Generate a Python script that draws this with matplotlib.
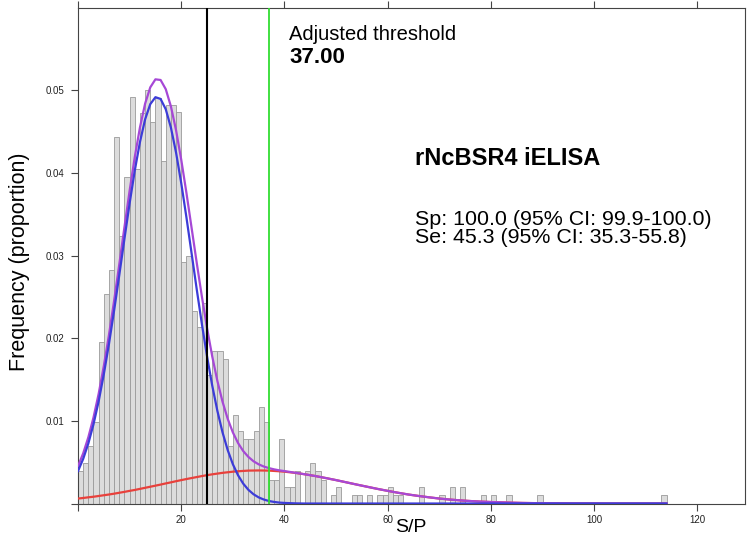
import numpy as np
import matplotlib
matplotlib.use("Agg")
import matplotlib.pyplot as plt

plt.rcParams['font.family'] = ['Liberation Sans', 'DejaVu Sans']

# histogram: proportion per 1-unit S/P bin, bins start at 0
bin_starts = list(range(0, 114))
props = [0.0039, 0.0049, 0.0069, 0.0098, 0.0195, 0.0253, 0.0282, 0.0443, 0.0323, 0.0395,
         0.0492, 0.0405, 0.0472, 0.0500, 0.0462, 0.0490, 0.0414, 0.0482, 0.0482, 0.0473,
         0.0292, 0.0300, 0.0233, 0.0213, 0.0242, 0.0156, 0.0185, 0.0185, 0.0175, 0.0069,
         0.0107, 0.0088, 0.0078, 0.0078, 0.0088, 0.0117, 0.0098, 0.0029, 0.0029, 0.0078,
         0.0020, 0.0020, 0.0039, 0.0000, 0.0039, 0.0049, 0.0039, 0.0029, 0.0000, 0.0010,
         0.0020, 0.0000, 0.0000, 0.0010, 0.0010, 0.0000, 0.0010, 0.0000, 0.0010, 0.0010,
         0.0020, 0.0010, 0.0010, 0.0000, 0.0000, 0.0000, 0.0020, 0.0000, 0.0000, 0.0000,
         0.0010, 0.0000, 0.0020, 0.0000, 0.0020, 0.0000, 0.0000, 0.0000, 0.0010, 0.0000,
         0.0010, 0.0000, 0.0000, 0.0010, 0.0000, 0.0000, 0.0000, 0.0000, 0.0000, 0.0010,
         0.0000, 0.0000, 0.0000, 0.0000, 0.0000, 0.0000, 0.0000, 0.0000, 0.0000, 0.0000,
         0.0000, 0.0000, 0.0000, 0.0000, 0.0000, 0.0000, 0.0000, 0.0000, 0.0000, 0.0000,
         0.0000, 0.0000, 0.0000, 0.0010]

# fitted curves
curve_x = list(range(0, 41)) + list(range(42, 115, 2))
negative_fit = [0.00392, 0.00539, 0.00726, 0.00958, 0.01236, 0.01563, 0.01931, 0.02336, 0.02765, 0.03203,
                0.03631, 0.04028, 0.04372, 0.04647, 0.04831, 0.04915, 0.04894, 0.04769, 0.04547, 0.04243,
                0.03875, 0.03463, 0.03028, 0.02591, 0.02170, 0.01779, 0.01427, 0.01120, 0.00860, 0.00646,
                0.00475, 0.00342, 0.00241, 0.00166, 0.00112, 0.00074, 0.00048, 0.00030, 0.00019, 0.00011,
                0.00007] + [0.00002] + [0.0] * 36
positive_fit = [0.00060, 0.00067, 0.00075, 0.00082, 0.00091, 0.00100, 0.00109, 0.00119, 0.00130, 0.00141,
                0.00153, 0.00164, 0.00177, 0.00190, 0.00203, 0.00216, 0.00229, 0.00243, 0.00256, 0.00270,
                0.00283, 0.00296, 0.00308, 0.00320, 0.00332, 0.00343, 0.00353, 0.00362, 0.00371, 0.00378,
                0.00385, 0.00390, 0.00394, 0.00398, 0.00399, 0.00400, 0.00399, 0.00398, 0.00394, 0.00390,
                0.00385,
                0.00371, 0.00353, 0.00332, 0.00308, 0.00283, 0.00256, 0.00229, 0.00203, 0.00177, 0.00153,
                0.00130, 0.00109, 0.00091, 0.00075, 0.00060, 0.00048, 0.00038, 0.00030, 0.00023, 0.00018,
                0.00014, 0.00010, 0.00007, 0.00005, 0.00004, 0.00003, 0.00002, 0.00001, 0.00001, 0.00001,
                0.0, 0.0, 0.0, 0.0, 0.0, 0.0, 0.0]
mixture_fit = [0.00452, 0.00606, 0.00801, 0.01040, 0.01327, 0.01663, 0.02040, 0.02455, 0.02895, 0.03344,
               0.03784, 0.04192, 0.04549, 0.04837, 0.05034, 0.05131, 0.05123, 0.05012, 0.04803, 0.04513,
               0.04158, 0.03759, 0.03336, 0.02911, 0.02502, 0.02122, 0.01780, 0.01482, 0.01231, 0.01024,
               0.00860, 0.00732, 0.00635, 0.00564, 0.00511, 0.00474, 0.00447, 0.00428, 0.00413, 0.00401,
               0.00392,
               0.00373, 0.00353, 0.00332, 0.00308, 0.00283, 0.00256, 0.00229, 0.00203, 0.00177, 0.00153,
               0.00130, 0.00109, 0.00091, 0.00075, 0.00060, 0.00048, 0.00038, 0.00030, 0.00023, 0.00018,
               0.00014, 0.00010, 0.00007, 0.00005, 0.00004, 0.00003, 0.00002, 0.00001, 0.00001, 0.00001,
               0.0, 0.0, 0.0, 0.0, 0.0, 0.0, 0.0]

cutoff = 25
adjusted_cutoff = 37
x_ticks = [0, 20, 40, 60, 80, 100, 120]
x_tick_labels = ['', '20', '40', '60', '80', '100', '120']
y_ticks = [0, 0.01, 0.02, 0.03, 0.04, 0.05]
y_tick_labels = ['', '0.01', '0.02', '0.03', '0.04', '0.05']

fig = plt.figure(figsize=(7.5, 5.47), dpi=100)
ax = fig.add_axes([0.104, 0.0795, 0.8893, 0.9053])

ax.bar(bin_starts, props, width=1, align='edge', color='#dcdcdc',
       edgecolor='#9a9a9a', linewidth=0.6, zorder=1)

ax.plot(curve_x, positive_fit, color='#e8413c', lw=1.6, zorder=3)
ax.plot(curve_x, mixture_fit, color='#a648d6', lw=1.6, zorder=3)
ax.plot(curve_x, negative_fit, color='#3c3cd8', lw=1.6, zorder=4)

ax.axvline(cutoff, color='black', lw=1.5, zorder=5)
ax.axvline(adjusted_cutoff, color='#33dd33', lw=1.3, zorder=5)

ax.set_xlim(0, 129.2)
ax.set_ylim(0, 0.0599)
ax.set_xticks(x_ticks)
ax.set_xticklabels(x_tick_labels)
ax.set_yticks(y_ticks)
ax.set_yticklabels(y_tick_labels)
ax.tick_params(axis='both', direction='out', length=5, width=0.8, color='#444444',
               labelsize=7, labelcolor='#222222', pad=5)
ax.tick_params(axis='x', top=True, pad=3)
for s in ax.spines.values():
    s.set_color('#444444')
    s.set_linewidth(0.8)

ax.text(40.9, 0.0561, 'Adjusted threshold', fontsize=14.5, va='baseline')
ax.text(40.9, 0.0533, '37.00', fontsize=16, fontweight='bold', va='baseline')
ax.text(65.3, 0.0410, 'rNcBSR4 iELISA', fontsize=17, fontweight='bold', va='baseline')
ax.text(65.3, 0.0337, 'Sp: 100.0 (95% CI: 99.9-100.0)', fontsize=15.4, va='baseline')
ax.text(65.3, 0.0315, 'Se: 45.3 (95% CI: 35.3-55.8)', fontsize=15.4, va='baseline')

fig.text(20 / 750, 1 - 262 / 547, 'Frequency (proportion)', rotation=90,
         fontsize=15.5, ha='center', va='center')
fig.text(411 / 750, 1 - 528 / 547, 'S/P', fontsize=14, ha='center', va='center')

fig.savefig('out.png', dpi=100)
